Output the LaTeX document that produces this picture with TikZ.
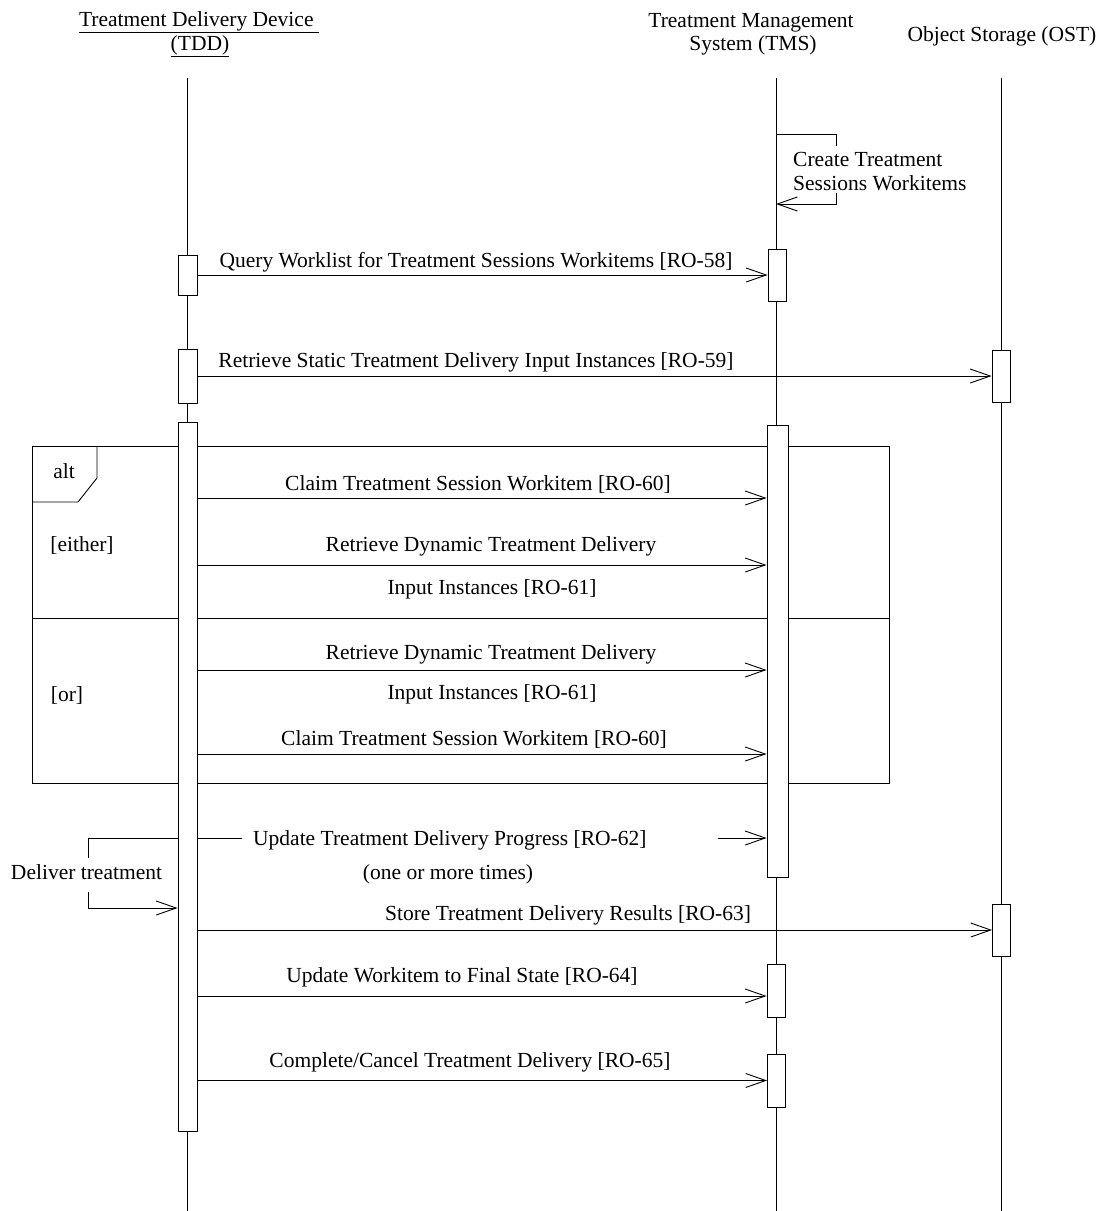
\documentclass[tikz,border=0pt]{standalone}
\usepackage{fontspec}
\setmainfont{Liberation Serif}
\usetikzlibrary{arrows.meta}
\begin{document}
\begin{tikzpicture}[x=1pt,y=-1pt,
  font=\fontsize{21.5}{24}\selectfont,
  ln/.style={line width=0.9pt},
  msg/.style={line width=0.9pt,-{Straight Barb[length=20pt,width=14pt,line width=0.9pt]}},
  act/.style={draw,fill=white,line width=0.9pt,inner sep=0pt},
  lbl/.style={anchor=base,inner sep=0pt},
  lblw/.style={anchor=base west,inner sep=0pt}]
\useasboundingbox (0,0) rectangle (1099,1211);
% headers
\node[lbl] (tddh1) at (199,26) {\underline{Treatment Delivery Device\ }};
\node[lbl] (tddh2) at (200,50) {\underline{(TDD)}};
\node[lbl] (tmsh1) at (751,27) {Treatment Management};
\node[lbl] (tmsh2) at (753,50) {System (TMS)};
\node[lbl] (osth) at (1002,41) {Object Storage (OST)};
% lifelines
\coordinate (tddTop) at (187,78);
\coordinate (tddBot) at (187,1211);
\coordinate (tmsTop) at (776,78);
\coordinate (tmsBot) at (776,1211);
\coordinate (ostTop) at (1001,78);
\coordinate (ostBot) at (1001,1211);
\draw[ln] (tddTop) -- (tddBot);
\draw[ln] (tmsTop) -- (tmsBot);
\draw[ln] (ostTop) -- (ostBot);
% self message on TMS
\coordinate (s1) at (836,134);
\coordinate (s2) at (836,146);
\coordinate (s3) at (836,193);
\coordinate (s4) at (836,204);
\draw[ln] (tmsTop |- s1) -- (s1) -- (s2);
\draw[msg] (s3) -- (s4) -- (tmsTop |- s4);
\node[lblw] (selfa) at (793,166) {Create Treatment};
\node[lblw] (selfb) at (793,190) {Sessions Workitems};
% alt frame
\draw[ln] (32,446) rectangle (889,783);
\draw[ln] (97,446) -- (97,478) -- (78,502) -- (32,502);
\draw[ln] (32,618) -- (889,618);
\node[lbl] (altlbl) at (64,478) {alt};
\node[lbl] (either) at (82,551) {[either]};
\node[lbl] (or) at (67,701) {[or]};
% activation boxes
\node[act,minimum width=19pt,minimum height=40pt] (tdd1) at (187.5,275) {};
\node[act,minimum width=19pt,minimum height=54pt] (tdd2) at (187.5,376) {};
\node[act,minimum width=19pt,minimum height=709pt] (tdd3) at (187.5,776.5) {};
\node[act,minimum width=18pt,minimum height=52pt] (tms1) at (777,275) {};
\node[act,minimum width=21pt,minimum height=452pt] (tms2) at (777.5,651) {};
\node[act,minimum width=18pt,minimum height=53pt] (tms3) at (776,990.5) {};
\node[act,minimum width=18pt,minimum height=53pt] (tms4) at (776.5,1080.5) {};
\node[act,minimum width=18pt,minimum height=52pt] (ost1) at (1001,376) {};
\node[act,minimum width=18pt,minimum height=52pt] (ost2) at (1001.5,930) {};
% messages
\draw[msg] (tdd1.east) -- (tms1.west);
\node[lbl] (m1) at (476,267) {Query Worklist for Treatment Sessions Workitems [RO-58]};
\draw[msg] (tdd2.east) -- (ost1.west);
\node[lbl] (m2) at (476,367) {Retrieve Static Treatment Delivery Input Instances [RO-59]};
\draw[msg] (tdd3.east |- 0,498) -- (tms2.west |- 0,498);
\node[lbl] (m3) at (478,490) {Claim Treatment Session Workitem [RO-60]};
\draw[msg] (tdd3.east |- 0,565) -- (tms2.west |- 0,565);
\node[lbl] (m4a) at (491,551) {Retrieve Dynamic Treatment Delivery};
\node[lbl] (m4b) at (492,594) {Input Instances [RO-61]};
\draw[msg] (tdd3.east |- 0,670) -- (tms2.west |- 0,670);
\node[lbl] (m5a) at (491,659) {Retrieve Dynamic Treatment Delivery};
\node[lbl] (m5b) at (492,699) {Input Instances [RO-61]};
\draw[msg] (tdd3.east |- 0,754) -- (tms2.west |- 0,754);
\node[lbl] (m6) at (474,745) {Claim Treatment Session Workitem [RO-60]};
% update progress
\coordinate (u1) at (242,838);
\coordinate (u2) at (718,838);
\draw[ln] (tdd3.east |- u1) -- (u1);
\draw[msg] (u2) -- (tms2.west |- u2);
\node[lblw] (m7) at (253,845) {Update Treatment Delivery Progress [RO-62]};
\node[lbl] (m7b) at (448,879) {(one or more times)};
% deliver treatment self loop
\coordinate (d1) at (88,838);
\coordinate (d2) at (88,858);
\coordinate (d3) at (88,892);
\coordinate (d4) at (88,908);
\draw[ln] (tdd3.west |- d1) -- (d1) -- (d2);
\draw[msg] (d3) -- (d4) -- (tdd3.west |- d4);
\node[lbl] (dlv) at (86.5,879) {Deliver treatment};
% remaining messages
\draw[msg] (tdd3.east |- ost2.west) -- (ost2.west);
\node[lbl] (m8) at (568,920) {Store Treatment Delivery Results [RO-63]};
\draw[msg] (tdd3.east |- 0,996) -- (tms3.west |- 0,996);
\node[lbl] (m9) at (462,982) {Update Workitem to Final State [RO-64]};
\draw[msg] (tdd3.east |- tms4.west) -- (tms4.west);
\node[lbl] (m10) at (470,1067) {Complete/Cancel Treatment Delivery [RO-65]};
\end{tikzpicture}
\end{document}
